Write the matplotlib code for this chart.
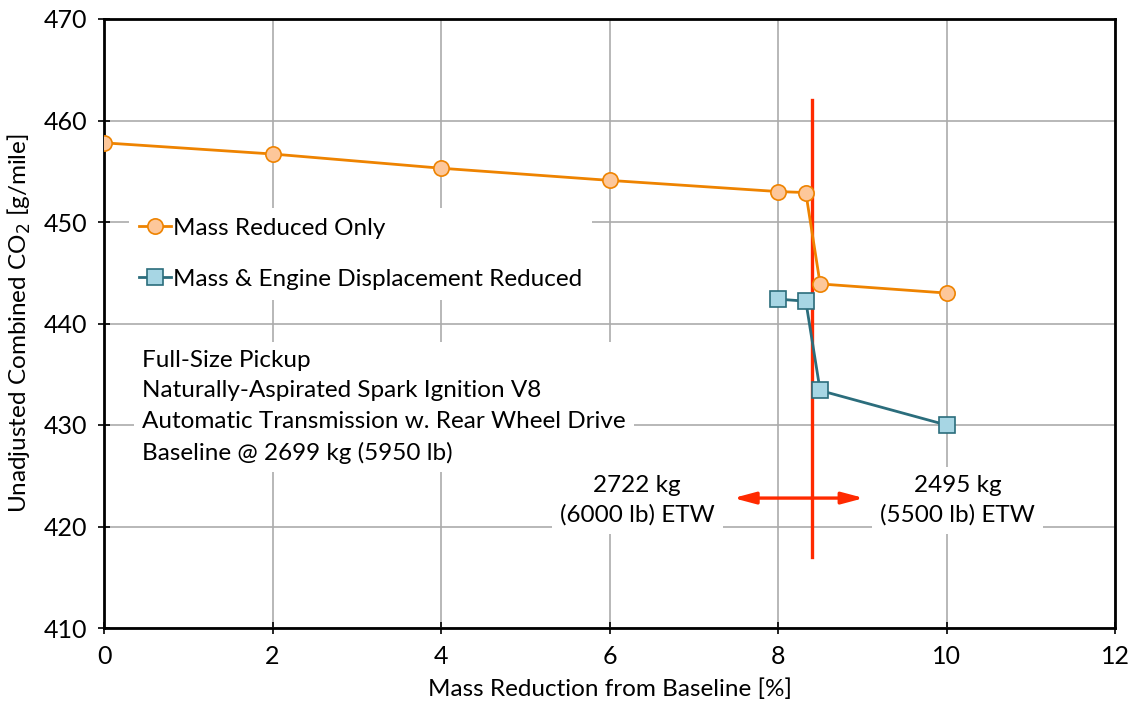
import numpy as np
import matplotlib
matplotlib.use('Agg')
import matplotlib.pyplot as plt

# mass reduction [%] and unadjusted combined CO2 [g/mile]
mass_only_x = [0, 2, 4, 6, 8, 8.33, 8.5, 10]
mass_only_y = [457.8, 456.7, 455.3, 454.1, 453.0, 452.9, 443.9, 443.0]
mass_engine_x = [8, 8.33, 8.5, 10]
mass_engine_y = [442.4, 442.2, 433.4, 430.0]

etw_split = 8.4
info_lines = ['Full-Size Pickup',
              'Naturally-Aspirated Spark Ignition V8',
              'Automatic Transmission w. Rear Wheel Drive',
              'Baseline @ 2699 kg (5950 lb)']

plt.rcParams['font.family'] = ['Lato', 'DejaVu Sans']
plt.rcParams['font.size'] = 17.5

fig = plt.figure(figsize=(11.35, 7.17), dpi=100)
ax = fig.add_axes([104/1135, 1-628/717, (1115-104)/1135, (628-19)/717])

ax.plot(mass_only_x, mass_only_y, color='#EE8300', lw=2, marker='o', ms=11,
        mfc='#FDC79A', mec='#EE8300', mew=1.2, label='Mass Reduced Only', zorder=5)
ax.plot(mass_engine_x, mass_engine_y, color='#2B6D7C', lw=2, marker='s', ms=11,
        mfc='#A7D6E4', mec='#2B6D7C', mew=1.2,
        label='Mass & Engine Displacement Reduced', zorder=5)

red = '#FF2A00'
ax.plot([etw_split, etw_split], [417, 462], color=red, lw=2.4, zorder=4)
for x_end in (7.47, 9.02):
    ax.annotate('', xy=(x_end, 422.8), xytext=(etw_split, 422.8),
                arrowprops=dict(arrowstyle='-|>,head_length=0.75,head_width=0.2',
                                color=red, lw=2.4, shrinkA=0, shrinkB=0), zorder=4)

ax.text(6.33, 422.6, '2722 kg\n(6000 lb) ETW', ha='center', va='center',
        linespacing=1.45, bbox=dict(fc='white', ec='none', pad=6), zorder=3)
ax.text(10.13, 422.6, '2495 kg\n(5500 lb) ETW', ha='center', va='center',
        linespacing=1.45, bbox=dict(fc='white', ec='none', pad=6), zorder=3)

ax.text(0.45, 431.8, '\n'.join(info_lines), ha='left', va='center',
        linespacing=1.55, bbox=dict(fc='white', ec='none', pad=6), zorder=3)

leg = ax.legend(loc='upper left', bbox_to_anchor=(0.025, 0.69), frameon=True,
                fancybox=False, edgecolor='none', framealpha=1,
                handlelength=1.3, handletextpad=0.1, labelspacing=1.25,
                borderaxespad=0, fontsize=17.5)

ax.set_xlim(0, 12)
ax.set_ylim(410, 470)
ax.set_xticks(np.arange(0, 13, 2))
ax.set_yticks(np.arange(410, 471, 10))
ax.grid(True, color='#ABABAB', lw=1.2)
ax.set_axisbelow(True)
for s in ax.spines.values():
    s.set_linewidth(2)
ax.tick_params(axis='x', direction='inout', length=8, width=1.2, pad=8, labelsize=18)
ax.tick_params(axis='y', direction='inout', length=8, width=1.2, pad=8, labelsize=18)

ax.set_xlabel('Mass Reduction from Baseline [%]', fontsize=17.5, labelpad=8)
ax.set_ylabel('Unadjusted Combined CO$_2$ [g/mile]', fontsize=17.5, labelpad=8)

fig.savefig('out.png', dpi=100)
